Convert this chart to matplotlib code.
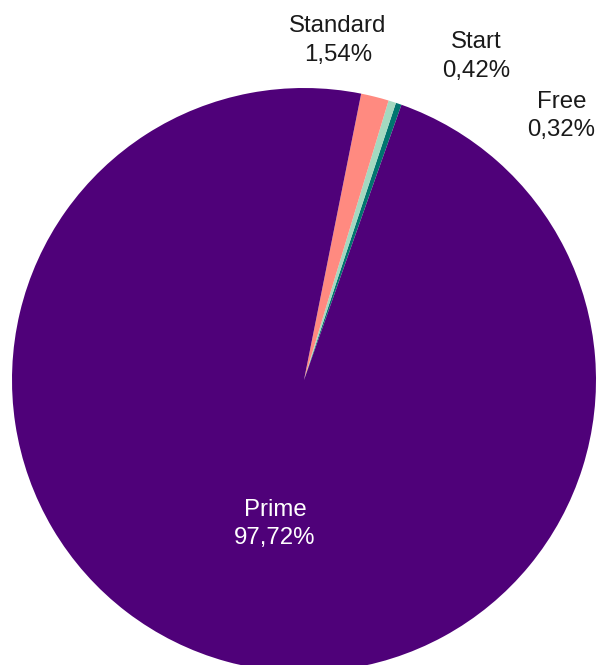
import matplotlib
matplotlib.use("Agg")
import matplotlib.pyplot as plt
import numpy as np

# plan shares, drawn counter-clockwise starting with Free
labels = ["Free", "Start", "Standard", "Prime"]
shares = [0.32, 0.42, 1.54, 97.72]
colors = ["#00756F", "#A3D9C0", "#FF8A80", "#4F0179"]
# label anchor positions, in pie radii from the centre
label_pos = [(0.882, 0.904), (0.591, 1.108), (0.116, 1.163), (-0.099, -0.493)]
label_colors = ["#1a1a1a", "#1a1a1a", "#1a1a1a", "white"]

plt.rcParams['font.family'] = ['Liberation Sans', 'DejaVu Sans']

W, H = 598, 665
fig = plt.figure(figsize=(W / 100, H / 100), dpi=100)
ax = fig.add_axes([0, 0, 1, 1])

cx, cy, r = 304, H - 380, 292
ax.pie(shares, colors=colors, startangle=70.5, counterclock=True,
       center=(cx, cy), radius=r, frame=True,
       wedgeprops=dict(linewidth=0))

for lab, val, (px, py), c in zip(labels, shares, label_pos, label_colors):
    txt = lab + "\n" + f"{val:.2f}".replace(".", ",") + "%"
    ax.text(cx + px * r, cy + py * r, txt, ha="center", va="center",
            fontsize=17.3, color=c, linespacing=1.38, multialignment="center")

ax.set_xlim(0, W)
ax.set_ylim(0, H)
ax.set_aspect("equal")
ax.axis("off")

fig.savefig("out.png", dpi=100, facecolor="white")
